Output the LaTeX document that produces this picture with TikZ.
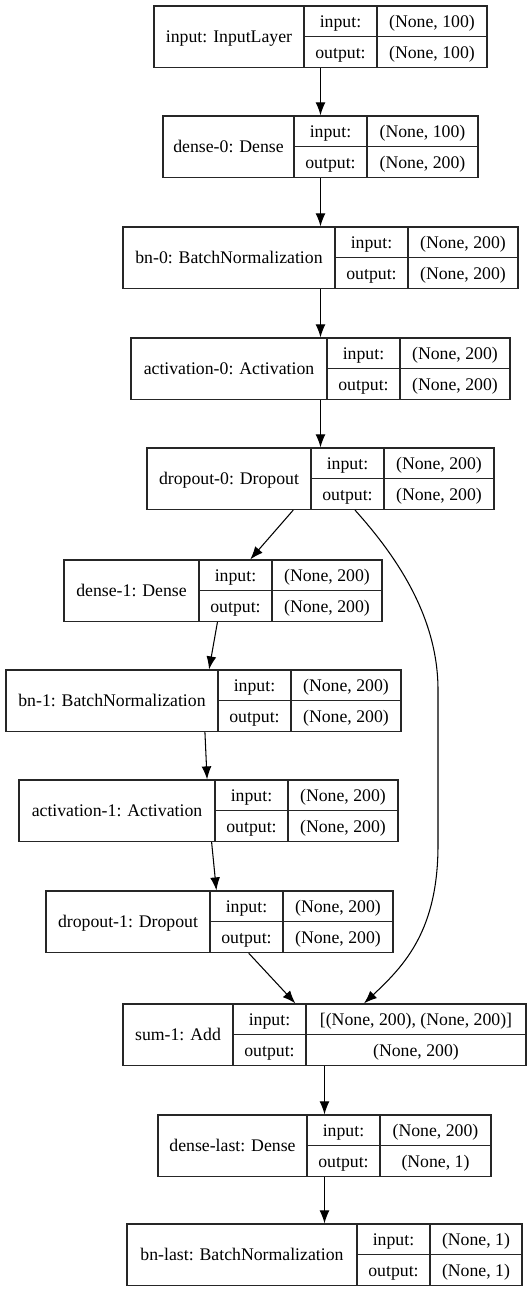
\documentclass[tikz,border=0pt]{standalone}
\usepackage{fontspec}
\setmainfont{Liberation Serif}
\usetikzlibrary{arrows.meta}

\tikzset{
  box/.style={draw=black!85, line width=0.7pt, inner sep=0pt},
  riga/.style={draw=black!85, line width=0.7pt},
  testo/.style={inner sep=0pt, anchor=base, font=\fontsize{10.1}{12}\selectfont},
  freccia/.style={-{Latex[length=7.4pt,width=5.6pt]}, line width=0.6pt},
}

% #1 nome, #2 x sinistra, #3 primo divisore, #4 secondo divisore,
% #5 x destra, #6 y alto, #7 etichetta, #8 input, #9 output
\newcommand{\strato}[9]{
  \node[box, minimum width={(#5-#2)*0.02cm}, minimum height=1.23cm] (#1) at ({(#2+#5)/2},{#6+30.75}) {};
  \draw[riga] (#3,#6) -- (#3,{#6+61.5}) (#4,#6) -- (#4,{#6+61.5});
  \draw[riga] (#3,{#6+30.75}) -- (#5,{#6+30.75});
  \node[testo] (#1-lab) at ({(#2+#3)/2},{#6+36.5}) {#7};
  \node[testo] (#1-in) at ({(#3+#4)/2},{#6+21.5}) {input:};
  \node[testo] (#1-out) at ({(#3+#4)/2},{#6+52.5}) {output:};
  \node[testo] (#1-inv) at ({(#4+#5)/2},{#6+21.5}) {#8};
  \node[testo] (#1-outv) at ({(#4+#5)/2},{#6+52.5}) {#9};
}

\begin{document}
\begin{tikzpicture}[x=0.02cm, y=-0.02cm]
  \useasboundingbox (0,0) rectangle (531,1291);

  % Strati
  \strato{input}{154}{304}{377}{487}{6}{input: InputLayer}{(None, 100)}{(None, 100)}
  \strato{dense0}{163}{294}{367}{478}{116}{dense-0: Dense}{(None, 100)}{(None, 200)}
  \strato{bn0}{123}{335}{408}{518}{227}{bn-0: BatchNormalization}{(None, 200)}{(None, 200)}
  \strato{act0}{131}{327}{400}{510}{338}{activation-0: Activation}{(None, 200)}{(None, 200)}
  \strato{drop0}{147}{311}{384}{494}{448}{dropout-0: Dropout}{(None, 200)}{(None, 200)}
  \strato{dense1}{64}{199}{272}{382}{560}{dense-1: Dense}{(None, 200)}{(None, 200)}
  \strato{bn1}{6}{218}{291}{401}{670}{bn-1: BatchNormalization}{(None, 200)}{(None, 200)}
  \strato{act1}{19}{215}{288}{398}{780}{activation-1: Activation}{(None, 200)}{(None, 200)}
  \strato{drop1}{46}{210}{283}{393}{891}{dropout-1: Dropout}{(None, 200)}{(None, 200)}
  \strato{sum1}{123}{233}{306}{526}{1004}{sum-1: Add}{[(None, 200), (None, 200)]}{(None, 200)}
  \strato{denselast}{158}{307}{380}{491}{1115}{dense-last: Dense}{(None, 200)}{(None, 1)}
  \strato{bnlast}{127}{357}{430}{522}{1224}{bn-last: BatchNormalization}{(None, 1)}{(None, 1)}

  % Frecce
  \draw[freccia] (input) -- (dense0);
  \draw[freccia] (dense0) -- (bn0);
  \draw[freccia] (bn0) -- (act0);
  \draw[freccia] (act0) -- (drop0);
  \draw[freccia] (drop0) -- (dense1);
  \draw[freccia] (dense1) -- (bn1);
  \draw[freccia] (bn1) -- (act1);
  \draw[freccia] (act1) -- (drop1);
  \draw[freccia] (drop1) -- (sum1);
  \draw[freccia] (sum1) -- (denselast);
  \draw[freccia] (denselast) -- (bnlast);

  % Collegamento residuo
  \draw[freccia] ([xshift=0.69cm]drop0.south) .. controls (400,560) and (438,620) .. (438,690)
    -- (438,845) .. controls (438,930) and (405,965) .. ([xshift=0.79cm]sum1.north);
\end{tikzpicture}
\end{document}
